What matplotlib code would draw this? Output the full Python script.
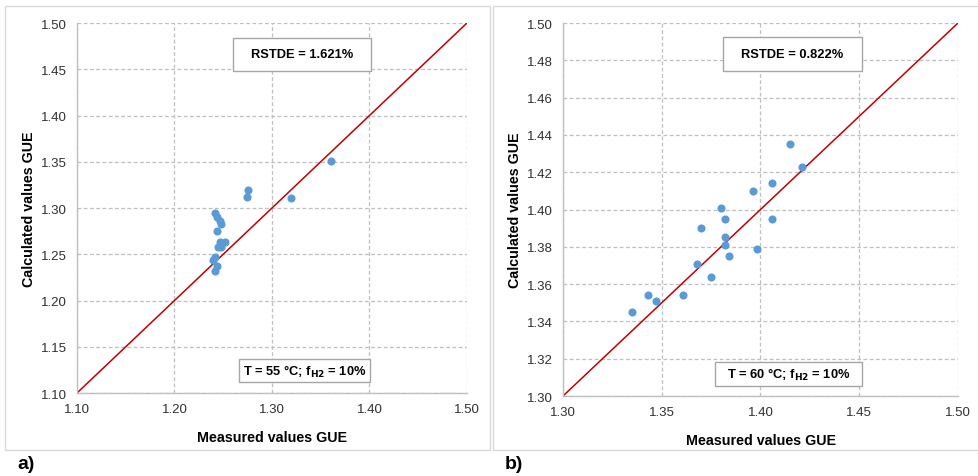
import matplotlib
matplotlib.use("Agg")
import matplotlib.pyplot as plt
from matplotlib.patches import Rectangle

plt.rcParams['font.family'] = ['Liberation Sans', 'DejaVu Sans']

# Panel a) data (T = 55 °C)
meas_a = [1.361, 1.275, 1.274, 1.320, 1.242, 1.244, 1.2465, 1.248, 1.244,
          1.2465, 1.2516, 1.2447, 1.2475, 1.2413, 1.239, 1.2441, 1.2417]
calc_a = [1.351, 1.320, 1.312, 1.311, 1.295, 1.290, 1.286, 1.283, 1.275,
          1.263, 1.263, 1.258, 1.258, 1.2475, 1.244, 1.237, 1.232]

# Panel b) data (T = 60 °C)
meas_b = [1.415, 1.421, 1.406, 1.396, 1.380, 1.382, 1.406, 1.370, 1.382,
          1.382, 1.398, 1.384, 1.368, 1.375, 1.343, 1.347, 1.361, 1.335]
calc_b = [1.435, 1.423, 1.414, 1.410, 1.401, 1.395, 1.395, 1.390, 1.385,
          1.381, 1.379, 1.375, 1.371, 1.364, 1.354, 1.351, 1.354, 1.345]

ticks_a = [1.10, 1.20, 1.30, 1.40, 1.50]
yticks_a = [1.10, 1.15, 1.20, 1.25, 1.30, 1.35, 1.40, 1.45, 1.50]
ticks_b = [1.30, 1.35, 1.40, 1.45, 1.50]
yticks_b = [1.30, 1.32, 1.34, 1.36, 1.38, 1.40, 1.42, 1.44, 1.46, 1.48, 1.50]

W, H = 979, 477
fig = plt.figure(figsize=(W / 100, H / 100), dpi=100)

def fx(px):
    return px / W

def fy(py):
    return 1 - py / H

# panel frames
for (x0, x1) in [(5, 490), (493, 985)]:
    fig.patches.append(Rectangle((fx(x0), fy(451)), fx(x1) - fx(x0), fy(7) - fy(451),
                                 transform=fig.transFigure, fill=False,
                                 edgecolor='#D9D9D9', linewidth=1.0))

def make_panel(rect, meas, calc, xt, yt, lim, rstde, temp, rbox, tbox):
    ax = fig.add_axes(rect)
    ax.set_xlim(lim)
    ax.set_ylim(lim)
    ax.set_xticks(xt)
    ax.set_yticks(yt)
    ax.set_xticklabels([f"{v:.2f}" for v in xt])
    ax.set_yticklabels([f"{v:.2f}" for v in yt])
    ax.grid(True, color='#BFBFBF', linestyle=(0, (3, 2)), linewidth=0.9)
    ax.set_axisbelow(True)
    for s in ['top', 'right']:
        ax.spines[s].set_visible(False)
    for s in ['left', 'bottom']:
        ax.spines[s].set_color('#BFBFBF')
        ax.spines[s].set_linewidth(1.0)
    ax.tick_params(length=0, labelsize=9.5, colors='#303030', pad=7)
    ax.plot(lim, lim, color='#C00000', linewidth=1.1, zorder=2)
    ax.scatter(meas, calc, s=34, color='#5B9BD5', zorder=3, linewidths=0)
    ax.set_xlabel('Measured values GUE', fontsize=10.3, fontweight='bold', labelpad=11)
    ax.set_ylabel('Calculated values GUE', fontsize=10.3, fontweight='bold', labelpad=4)
    # text boxes
    for (x0, y0, x1, y1), txt in [(rbox, rstde), (tbox, temp)]:
        fig.patches.append(Rectangle((fx(x0), fy(y1)), fx(x1) - fx(x0), fy(y0) - fy(y1),
                                     transform=fig.transFigure, facecolor='white',
                                     edgecolor='#A6A6A6', linewidth=1.0, zorder=5))
        fig.text(fx((x0 + x1) / 2), fy((y0 + y1) / 2), txt, ha='center', va='center',
                 fontsize=9.3, fontweight='bold', zorder=6)
    return ax

make_panel([fx(77), fy(394), fx(467) - fx(77), fy(24) - fy(394)],
           meas_a, calc_a, ticks_a, yticks_a, (1.10, 1.50),
           'RSTDE = 1.621%', r'T = 55 °C; f$_{\mathbf{H2}}$ = 10%',
           (233, 39, 371, 72), (239, 360, 370, 383))

make_panel([fx(563), fy(397), fx(958) - fx(563), fy(24) - fy(397)],
           meas_b, calc_b, ticks_b, yticks_b, (1.30, 1.50),
           'RSTDE = 0.822%', r'T = 60 °C; f$_{\mathbf{H2}}$ = 10%',
           (723, 38, 862, 72), (715, 363, 862, 387))

fig.text(fx(17), fy(465), 'a)', fontsize=14, fontweight='bold', va='center', ha='left')
fig.text(fx(505), fy(465), 'b)', fontsize=14, fontweight='bold', va='center', ha='left')

fig.savefig('out.png', dpi=100, facecolor='white')
